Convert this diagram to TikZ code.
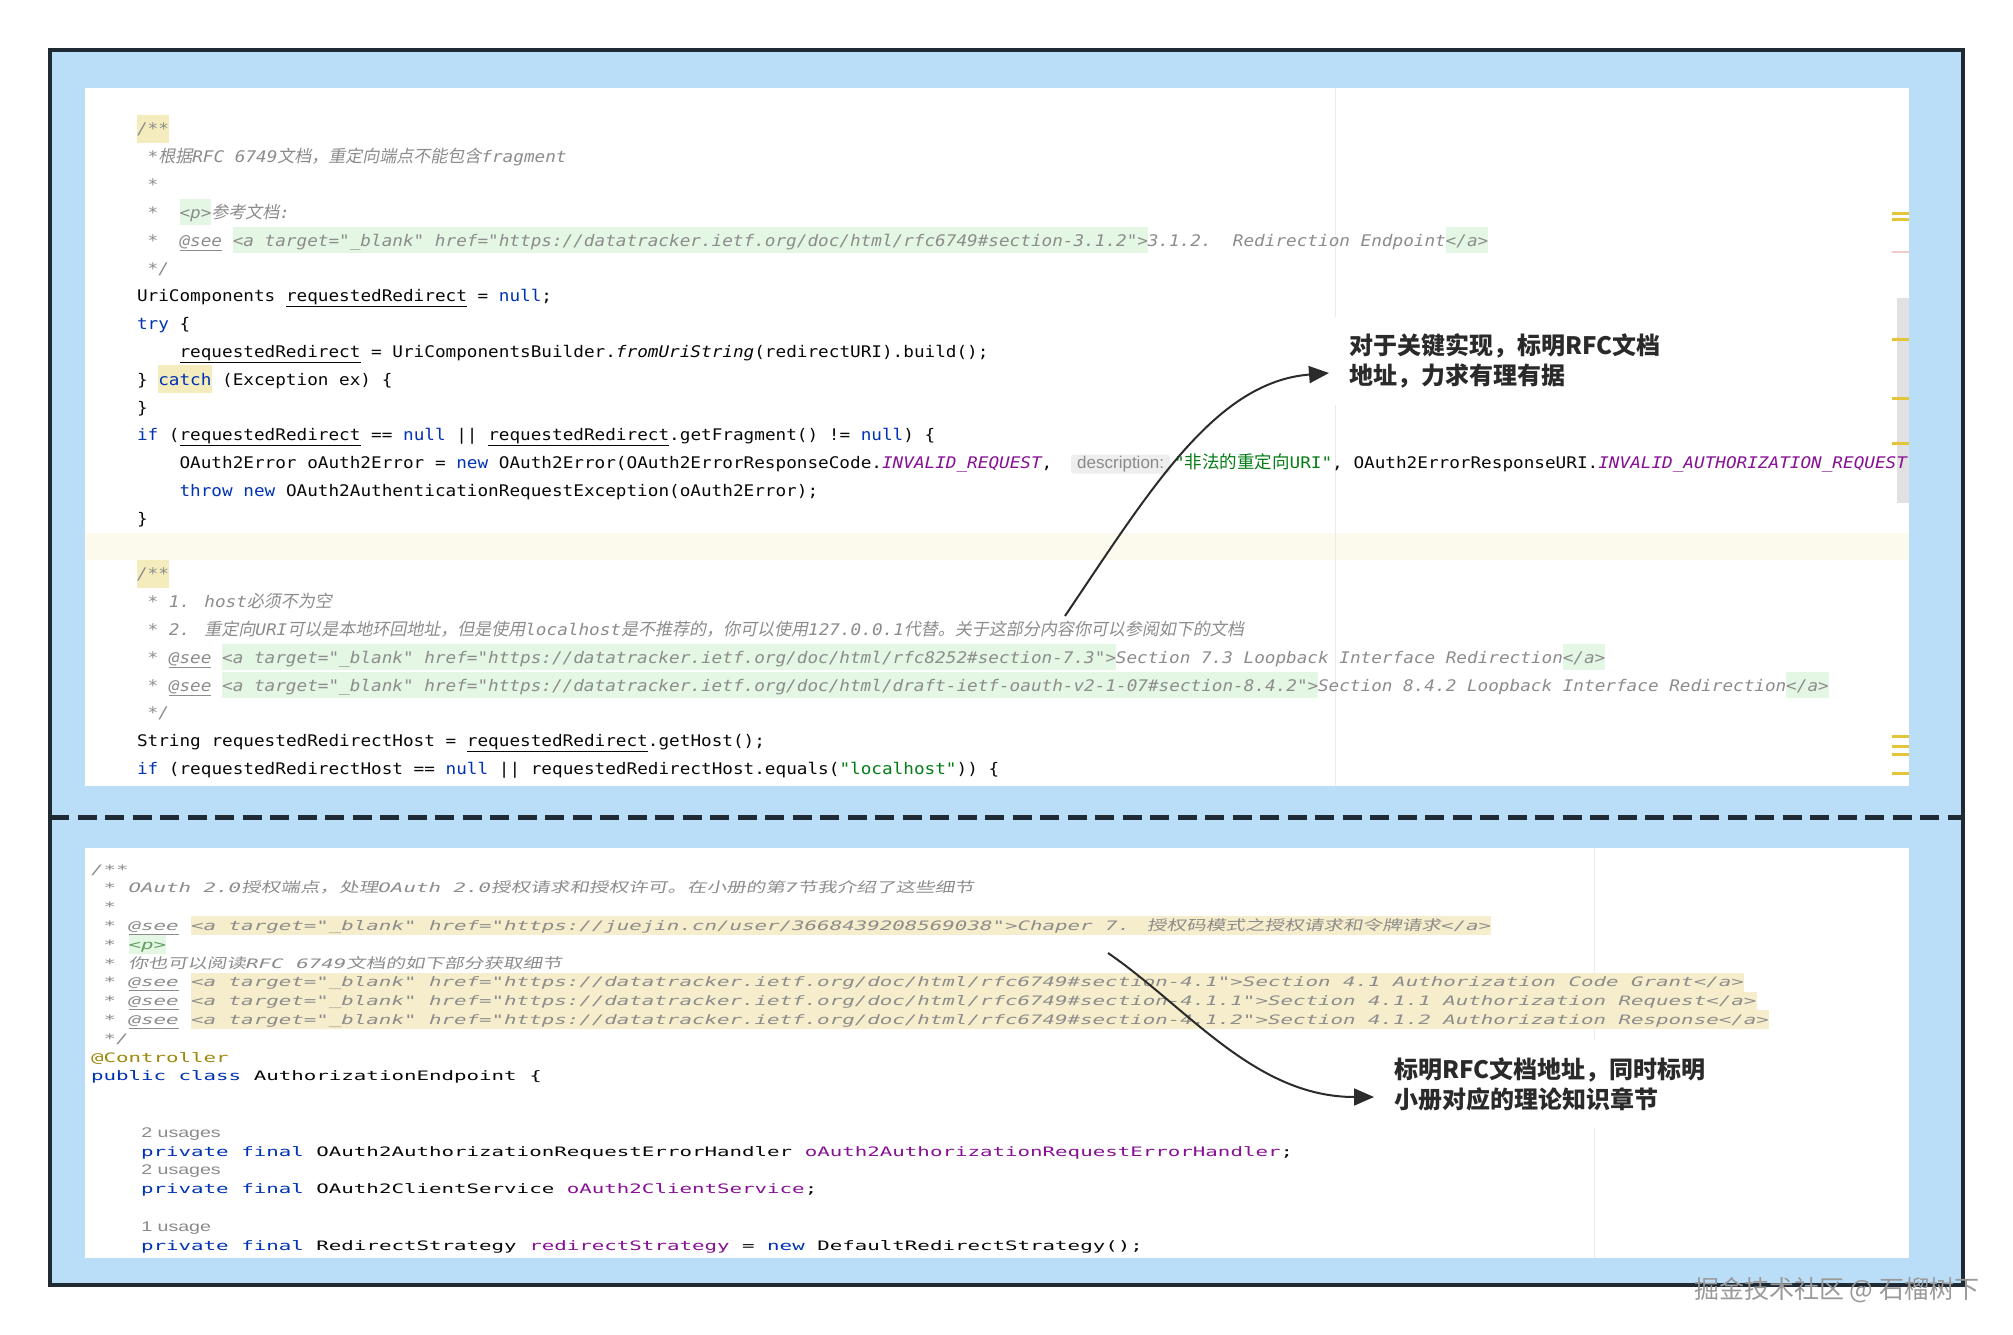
\documentclass[tikz,border=0pt]{standalone}
\usepackage{fontspec}
\usetikzlibrary{arrows.meta}
\usetikzlibrary{positioning}

\newfontfamily\topmono[FakeStretch=1.105]{DejaVu Sans Mono}
\newfontfamily\botmono[FakeStretch=1.6]{DejaVu Sans Mono}
\newfontfamily\zhfont{Noto Sans CJK SC}
\newfontfamily\zhslant[FakeSlant=0.2]{Noto Sans CJK SC}
\newfontfamily\zhbot[FakeSlant=0.2,FakeStretch=1.4]{Noto Sans CJK SC}
\newfontfamily\hintfont[FakeStretch=1.4]{Liberation Sans}
\newfontfamily\inlayfont{Liberation Sans}

\definecolor{kwblue}{HTML}{0033B3}
\definecolor{cmgray}{HTML}{8C8C8C}
\definecolor{cstpurple}{HTML}{871094}
\definecolor{strgreen}{HTML}{067D17}
\definecolor{codeblack}{HTML}{080808}
\definecolor{annoyellow}{HTML}{9E880D}
\definecolor{frameblue}{HTML}{BBDEF8}
\definecolor{framedark}{HTML}{1F2A35}
\definecolor{docgreen}{HTML}{E4F6E4}
\definecolor{docgreentext}{HTML}{5E9E5E}
\definecolor{docbeige}{HTML}{F5EDCB}
\definecolor{hlyellow}{HTML}{F5ECBE}
\definecolor{curline}{HTML}{FCFAEC}
\definecolor{guide}{HTML}{EBEBEB}
\definecolor{markyellow}{HTML}{E2C53A}
\definecolor{markpink}{HTML}{F4C9C9}
\definecolor{thumb}{HTML}{E1E1E1}
\definecolor{inlaybg}{HTML}{EEEEEE}
\definecolor{inlaytext}{HTML}{8A8A8A}
\definecolor{notetext}{HTML}{2A2A2A}
\definecolor{arrowdark}{HTML}{2B2B2B}
\definecolor{wmgray}{HTML}{9A9A9A}

\newcommand{\tfont}{\topmono\fontsize{16}{16}\selectfont}
\newcommand{\bfont}{\botmono\fontsize{13}{13}\selectfont}
\newcommand{\kw}[1]{\textcolor{kwblue}{#1}}
\newcommand{\cst}[1]{\textcolor{cstpurple}{\itshape #1}}
\newcommand{\strlit}[1]{\textcolor{strgreen}{#1}}
\newcommand{\fld}[1]{\textcolor{cstpurple}{#1}}
\newcommand{\zi}[1]{{\zhslant\fontsize{17}{17}\selectfont #1}}
\newcommand{\zs}[1]{{\zhfont\fontsize{17.5}{17}\selectfont #1}}
\newcommand{\zb}[1]{{\zhbot\fontsize{14}{14}\selectfont #1}}
% column / line positions of the two editor shots
\newcommand{\tcx}[1]{137+10.64*#1}
\newcommand{\tcy}[1]{135+27.8*#1-27.8}
\newcommand{\bcx}[1]{91+12.52*#1}
\newcommand{\bcy}[1]{874+18.8*#1-18.8}

\tikzset{
  code/.style={anchor=base west, inner sep=0pt, outer sep=0pt, text=codeblack, font=\tfont},
  cmt/.style={code, text=cmgray, font=\tfont\itshape},
  doctag/.style={cmt, fill=docgreen, text height=19pt, text depth=7pt},
  yhl/.style={fill=hlyellow, text height=20pt, text depth=8pt},
  bcode/.style={anchor=base west, inner sep=0pt, outer sep=0pt, text=codeblack, font=\bfont},
  bcmt/.style={bcode, text=cmgray, font=\bfont\itshape},
  btag/.style={bcmt, fill=docbeige, text height=14pt, text depth=5pt},
  usage/.style={anchor=base west, inner sep=0pt, text=inlaytext, font=\hintfont\fontsize{14}{14}\selectfont},
  hint/.style={anchor=base west, fill=inlaybg, rounded corners=3pt, inner xsep=6pt, inner ysep=0pt,
    text height=14pt, text depth=5pt, text=inlaytext, font=\inlayfont\fontsize{17}{17}\selectfont},
  note/.style={anchor=west, fill=white, text=notetext, align=left, inner xsep=20pt, inner ysep=17pt,
    font=\zhfont\bfseries\fontsize{24}{30}\selectfont},
  callout/.style={-{Triangle[length=20pt,width=17pt]}, line width=2pt, draw=arrowdark},
}

\begin{document}
\begin{tikzpicture}[x=1pt,y=-1pt]
  \useasboundingbox[fill=white] (0,0) rectangle (2013,1335);
  \draw[fill=frameblue, draw=framedark, line width=4pt] (50,50) rectangle (1963,1285);
  \draw[framedark, line width=5pt, dash pattern=on 19pt off 8.5pt] (50,817) -- (1963,817);

  % upper shot
  \fill[white] (85,88) rectangle (1909,786);
  \begin{scope}
    \clip (85,88) rectangle (1909,786);
    \fill[curline] (85,\tcy{16}-19) rectangle (1909,\tcy{16}+8);
    \draw[guide, line width=1pt] (1335,88) -- (1335,786);
    \fill[thumb] (1897,298) rectangle (1909,503);
    \foreach \m in {212,218,338,397,442,735,745,753,772}
      \fill[markyellow] (1892,\m) rectangle (1909,\m+3);
    \fill[markpink] (1892,251) rectangle (1909,253);

    \node[cmt, yhl] (t1) at (\tcx{0},\tcy{1}) {/**};
    \node[cmt] (t2) at (\tcx{1},\tcy{2}) {*\zi{根据}RFC 6749\zi{文档，重定向端点不能包含}fragment};
    \node[cmt] (t3) at (\tcx{1},\tcy{3}) {*};
    \node[cmt] (t4) at (\tcx{1},\tcy{4}) {*};
    \node[doctag] (t4p) at (\tcx{4},\tcy{4}) {<p>};
    \node[cmt] (t4z) at (\tcx{7},\tcy{4}) {\zi{参考文档}:};
    \node[cmt] (t5) at (\tcx{1},\tcy{5}) {*};
    \node[cmt] (t5see) at (\tcx{4},\tcy{5}) {\underline{@see}};
    \node[doctag] (t5a) at (\tcx{9},\tcy{5}) {<a target="\_blank" href="https://datatracker.ietf.org/doc/html/rfc6749\#section-3.1.2">};
    \node[cmt] (t5txt) at (\tcx{95},\tcy{5}) {3.1.2.\ \ Redirection Endpoint};
    \node[doctag] (t5end) at (\tcx{123},\tcy{5}) {</a>};
    \node[cmt] (t6) at (\tcx{1},\tcy{6}) {*/};
    \node[code] (t7) at (\tcx{0},\tcy{7}) {UriComponents \underline{requestedRedirect} = \kw{null};};
    \node[code] (t8) at (\tcx{0},\tcy{8}) {\kw{try} \{};
    \node[code] (t9) at (\tcx{4},\tcy{9}) {\underline{requestedRedirect} = UriComponentsBuilder.\textit{fromUriString}(redirectURI).build();};
    \node[code] (t10) at (\tcx{0},\tcy{10}) {\}};
    \node[code, yhl, text=kwblue] (t10c) at (\tcx{2},\tcy{10}) {catch};
    \node[code] (t10r) at (\tcx{8},\tcy{10}) {(Exception ex) \{};
    \node[code] (t11) at (\tcx{0},\tcy{11}) {\}};
    \node[code] (t12) at (\tcx{0},\tcy{12}) {\kw{if} (\underline{requestedRedirect} == \kw{null} || \underline{requestedRedirect}.getFragment() != \kw{null}) \{};
    \node[code] (t13) at (\tcx{4},\tcy{13}) {OAuth2Error oAuth2Error = \kw{new} OAuth2Error(OAuth2ErrorResponseCode.\cst{INVALID\_REQUEST},};
    \node[hint] (t13h) at (1071,\tcy{13}) {description:};
    \node[code] (t13r) at (1174,\tcy{13}) {\strlit{"\zs{非法的重定向}URI"}, OAuth2ErrorResponseURI.\cst{INVALID\_AUTHORIZATION\_REQUEST}};
    \node[code] (t14) at (\tcx{4},\tcy{14}) {\kw{throw} \kw{new} OAuth2AuthenticationRequestException(oAuth2Error);};
    \node[code] (t15) at (\tcx{0},\tcy{15}) {\}};
    \node[cmt, yhl] (t17) at (\tcx{0},\tcy{17}) {/**};
    \node[cmt] (t18) at (\tcx{1},\tcy{18}) {* 1. host\zi{必须不为空}};
    \node[cmt] (t19) at (\tcx{1},\tcy{19}) {* 2. \zi{重定向}URI\zi{可以是本地环回地址，但是使用}localhost\zi{是不推荐的，你可以使用}127.0.0.1\zi{代替。关于这部分内容你可以参阅如下的文档}};
    \node[cmt] (t20) at (\tcx{1},\tcy{20}) {*};
    \node[cmt] (t20see) at (\tcx{3},\tcy{20}) {\underline{@see}};
    \node[doctag] (t20a) at (\tcx{8},\tcy{20}) {<a target="\_blank" href="https://datatracker.ietf.org/doc/html/rfc8252\#section-7.3">};
    \node[cmt] (t20txt) at (\tcx{92},\tcy{20}) {Section 7.3 Loopback Interface Redirection};
    \node[doctag] (t20end) at (\tcx{134},\tcy{20}) {</a>};
    \node[cmt] (t21) at (\tcx{1},\tcy{21}) {*};
    \node[cmt] (t21see) at (\tcx{3},\tcy{21}) {\underline{@see}};
    \node[doctag] (t21a) at (\tcx{8},\tcy{21}) {<a target="\_blank" href="https://datatracker.ietf.org/doc/html/draft-ietf-oauth-v2-1-07\#section-8.4.2">};
    \node[cmt] (t21txt) at (\tcx{111},\tcy{21}) {Section 8.4.2 Loopback Interface Redirection};
    \node[doctag] (t21end) at (\tcx{155},\tcy{21}) {</a>};
    \node[cmt] (t22) at (\tcx{1},\tcy{22}) {*/};
    \node[code] (t23) at (\tcx{0},\tcy{23}) {String requestedRedirectHost = \underline{requestedRedirect}.getHost();};
    \node[code] (t24) at (\tcx{0},\tcy{24}) {\kw{if} (requestedRedirectHost == \kw{null} || requestedRedirectHost.equals(\strlit{"localhost"})) \{};
  \end{scope}

  % lower shot
  \fill[white] (85,848) rectangle (1909,1258);
  \begin{scope}
    \clip (85,848) rectangle (1909,1258);
    \draw[guide, line width=1pt] (1594,848) -- (1594,1258);
    \node[bcmt] (b1) at (\bcx{0},\bcy{1}) {/**};
    \node[bcmt] (b2) at (\bcx{1},\bcy{2}) {* OAuth 2.0\zb{授权端点，处理}OAuth 2.0\zb{授权请求和授权许可。在小册的第}7\zb{节我介绍了这些细节}};
    \node[bcmt] (b3) at (\bcx{1},\bcy{3}) {*};
    \node[bcmt] (b4) at (\bcx{1},\bcy{4}) {*};
    \node[bcmt] (b4see) at (\bcx{3},\bcy{4}) {\underline{@see}};
    \node[btag] (b4a) at (\bcx{8},\bcy{4}) {<a target="\_blank" href="https://juejin.cn/user/3668439208569038">Chaper 7. \zb{授权码模式之授权请求和令牌请求}</a>};
    \node[bcmt] (b5) at (\bcx{1},\bcy{5}) {*};
    \node[bcmt, fill=docgreen, text height=14pt, text depth=5pt, text=docgreentext] (b5p) at (\bcx{3},\bcy{5}) {<p>};
    \node[bcmt] (b6) at (\bcx{1},\bcy{6}) {* \zb{你也可以阅读}RFC 6749\zb{文档的如下部分获取细节}};
    \node[bcmt] (b7) at (\bcx{1},\bcy{7}) {*};
    \node[bcmt] (b7see) at (\bcx{3},\bcy{7}) {\underline{@see}};
    \node[btag] (b7a) at (\bcx{8},\bcy{7}) {<a target="\_blank" href="https://datatracker.ietf.org/doc/html/rfc6749\#section-4.1">Section 4.1 Authorization Code Grant</a>};
    \node[bcmt] (b8) at (\bcx{1},\bcy{8}) {*};
    \node[bcmt] (b8see) at (\bcx{3},\bcy{8}) {\underline{@see}};
    \node[btag] (b8a) at (\bcx{8},\bcy{8}) {<a target="\_blank" href="https://datatracker.ietf.org/doc/html/rfc6749\#section-4.1.1">Section 4.1.1 Authorization Request</a>};
    \node[bcmt] (b9) at (\bcx{1},\bcy{9}) {*};
    \node[bcmt] (b9see) at (\bcx{3},\bcy{9}) {\underline{@see}};
    \node[btag] (b9a) at (\bcx{8},\bcy{9}) {<a target="\_blank" href="https://datatracker.ietf.org/doc/html/rfc6749\#section-4.1.2">Section 4.1.2 Authorization Response</a>};
    \node[bcmt] (b10) at (\bcx{1},\bcy{10}) {*/};
    \node[bcode, text=annoyellow] (b11) at (\bcx{0},\bcy{11}) {@Controller};
    \node[bcode] (b12) at (\bcx{0},\bcy{12}) {\kw{public} \kw{class} AuthorizationEndpoint \{};
    \node[usage] (b15) at (\bcx{4},\bcy{15}) {2 usages};
    \node[bcode] (b16) at (\bcx{4},\bcy{16}) {\kw{private} \kw{final} OAuth2AuthorizationRequestErrorHandler \fld{oAuth2AuthorizationRequestErrorHandler};};
    \node[usage] (b17) at (\bcx{4},\bcy{17}) {2 usages};
    \node[bcode] (b18) at (\bcx{4},\bcy{18}) {\kw{private} \kw{final} OAuth2ClientService \fld{oAuth2ClientService};};
    \node[usage] (b20) at (\bcx{4},\bcy{20}) {1 usage};
    \node[bcode] (b21) at (\bcx{4},\bcy{21}) {\kw{private} \kw{final} RedirectStrategy \fld{redirectStrategy} = \kw{new} DefaultRedirectStrategy();};
  \end{scope}

  % callouts
  \node[note] (note1) at (1329,361) {对于关键实现，标明RFC文档\\地址，力求有理有据};
  \node[note] (note2) at (1374,1084) {标明RFC文档地址，同时标明\\小册对应的理论知识章节};
  \coordinate (from1) at (1065,616);
  \coordinate (from2) at (1108,953);
  \draw[callout] (from1) .. controls (1150,490) and (1215,382) .. ([yshift=-12pt]note1.west);
  \draw[callout] (from2) .. controls (1188,1008) and (1255,1097) .. ([yshift=-13pt]note2.west);

  \node[anchor=west, inner sep=0pt, text=wmgray, font=\zhfont\fontsize{25}{25}\selectfont] (wm) at (1694,1290) {掘金技术社区 @ 石榴树下};
\end{tikzpicture}
\end{document}
